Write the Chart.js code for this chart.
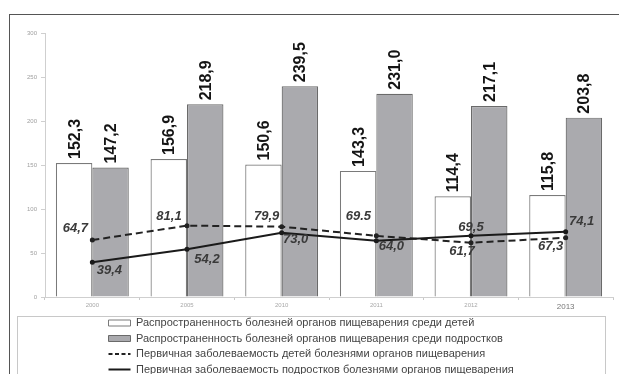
<!DOCTYPE html>
<html>
<head>
<meta charset="utf-8">
<script src="https://cdn.jsdelivr.net/npm/chart.js@4"></script>
<style>
  html, body { margin: 0; padding: 0; width: 619px; height: 374px; overflow: hidden; background: #fff; }
  #frame { position: absolute; left: 9px; top: 14px; width: 700px; height: 500px;
           border-left: 1.5px solid #555; border-top: 1.5px solid #555; }
  #wrap { position: absolute; left: 0; top: 0; width: 619px; height: 385px; }
</style>
</head>
<body>
<div id="frame"></div>
<div id="wrap"><canvas id="c" width="619" height="385"></canvas></div>
<script>
// ---- data ----
const years = ["2000", "2005", "2010", "2011", "2012", "2013"];
const prevalenceChildren = [152.3, 156.9, 150.6, 143.3, 114.4, 115.8];
const prevalenceTeens = [147.2, 218.9, 239.5, 231.0, 217.1, 203.8];
const incidenceChildren = [64.7, 81.1, 79.9, 69.5, 61.7, 67.3];
const incidenceTeens = [39.4, 54.2, 73.0, 64.0, 69.5, 74.1];
const incidenceChildrenText = ["64,7", "81,1", "79,9", "69.5", "61,7", "67,3"];
const seriesNames = [
  "Распространенность болезней органов пищеварения среди детей",
  "Распространенность болезней органов пищеварения среди подростков",
  "Первичная заболеваемость детей болезнями органов пищеварения",
  "Первичная заболеваемость подростков болезнями органов пищеварения"
];
const yTicks = [0, 50, 100, 150, 200, 250, 300];

const fmt = v => v.toFixed(1).replace('.', ',');

// label offsets relative to the library-computed point (styling only)
const dashOffsets = [[-17,-12],[-18,-9],[-15,-10],[-18,-19],[-9,9],[-15,9]];
const solidOffsets = [[17,8],[20,10],[14,7],[15,6],[0,-8],[16,-10]];

const labelPlugin = {
  id: 'labels',
  afterDatasetsDraw(chart) {
    const ctx = chart.ctx;
    ctx.save();
    [0, 1].forEach(di => {
      const meta = chart.getDatasetMeta(di);
      const vals = chart.data.datasets[di].data;
      meta.data.forEach((el, i) => {
        ctx.save();
        ctx.translate(el.x + 1, el.y - 4);
        ctx.rotate(-Math.PI / 2);
        ctx.font = 'bold 16px "Liberation Sans", Arial, sans-serif';
        ctx.fillStyle = '#151515';
        ctx.textAlign = 'left';
        ctx.textBaseline = 'middle';
        ctx.fillText(fmt(vals[i]), 0, 0);
        ctx.restore();
      });
    });
    ctx.font = 'italic bold 13px "Liberation Sans", Arial, sans-serif';
    ctx.fillStyle = '#3a3a3a';
    ctx.textAlign = 'center';
    ctx.textBaseline = 'middle';
    const m2 = chart.getDatasetMeta(2);
    m2.data.forEach((el, i) => {
      ctx.fillText(incidenceChildrenText[i], el.x + dashOffsets[i][0], el.y + dashOffsets[i][1]);
    });
    const m3 = chart.getDatasetMeta(3);
    const v3 = chart.data.datasets[3].data;
    m3.data.forEach((el, i) => {
      ctx.fillText(fmt(v3[i]), el.x + solidOffsets[i][0], el.y + solidOffsets[i][1]);
    });
    ctx.restore();
  },
  beforeDraw(chart) {
    if (chart.legend) chart.legend.left = 104;
  },
  afterDraw(chart) {
    const ctx = chart.ctx;
    ctx.save();
    ctx.strokeStyle = '#c8c8c8';
    ctx.lineWidth = 1;
    ctx.strokeRect(17.5, 316.5, 588, 100);
    ctx.restore();
  }
};

new Chart(document.getElementById('c'), {
  data: {
    labels: years,
    datasets: [
      { type: 'bar', label: seriesNames[0], data: prevalenceChildren,
        backgroundColor: '#ffffff', borderColor: '#7a7a7a', borderWidth: 1.2,
        categoryPercentage: 0.77, barPercentage: 1.0, order: 2 },
      { type: 'bar', label: seriesNames[1], data: prevalenceTeens,
        backgroundColor: '#aaaaae', borderColor: '#6a6a6a', borderWidth: 1.2,
        categoryPercentage: 0.77, barPercentage: 1.0, order: 2 },
      { type: 'line', label: seriesNames[2], data: incidenceChildren,
        borderColor: '#222', backgroundColor: '#222', borderWidth: 2, borderDash: [7, 4],
        pointRadius: 1.5, pointBackgroundColor: '#222', tension: 0, order: 1 },
      { type: 'line', label: seriesNames[3], data: incidenceTeens,
        borderColor: '#1a1a1a', backgroundColor: '#1a1a1a', borderWidth: 2,
        pointRadius: 1.5, pointBackgroundColor: '#1a1a1a', tension: 0, order: 0 }
    ]
  },
  options: {
    responsive: false,
    animation: false,
    devicePixelRatio: 1,
    layout: { padding: { top: 33, right: 3.5, left: 0, bottom: 0 } },
    plugins: {
      tooltip: { enabled: false },
      legend: {
        position: 'bottom',
        align: 'start',
        labels: {
          usePointStyle: true,
          pointStyleWidth: 22,
          boxHeight: 6,
          padding: 4.5,
          color: '#444',
          font: { family: '"Liberation Sans", Arial, sans-serif', size: 11 },
          generateLabels(chart) {
            const items = Chart.defaults.plugins.legend.labels.generateLabels(chart);
            items.sort((a, b) => a.datasetIndex - b.datasetIndex);
            items.forEach(it => {
              const isBar = it.datasetIndex < 2;
              it.pointStyle = isBar ? 'rect' : 'line';
              it.lineWidth = isBar ? 1 : 2;
              it.lineDash = it.datasetIndex === 2 ? [4, 2.5] : [];
            });
            return items;
          }
        }
      }
    },
    scales: {
      x: {
        offset: true,
        grid: { display: true, drawOnChartArea: false, offset: true, tickLength: 3, color: '#c8c8c8' },
        border: { color: '#cfcfcf' },
        ticks: {
          padding: 2,
          color: ctx => ctx.index === 5 ? '#777' : '#a8a8a8',
          font: ctx => ({ family: '"Liberation Sans", Arial, sans-serif', size: ctx.index === 5 ? 8 : 6 })
        },
        afterFit(s) { s.height = 16; }
      },
      y: {
        min: 0, max: 300,
        afterBuildTicks(s) { s.ticks = yTicks.map(v => ({ value: v })); },
        grid: { display: true, drawOnChartArea: false, tickLength: 4, color: '#cfcfcf' },
        border: { color: '#cfcfcf' },
        ticks: { padding: 4, color: '#a0a0a0',
          font: { family: '"Liberation Sans", Arial, sans-serif', size: 6 } },
        afterFit(s) { s.width = 45; }
      }
    }
  },
  plugins: [labelPlugin]
});
</script>
</body>
</html>
